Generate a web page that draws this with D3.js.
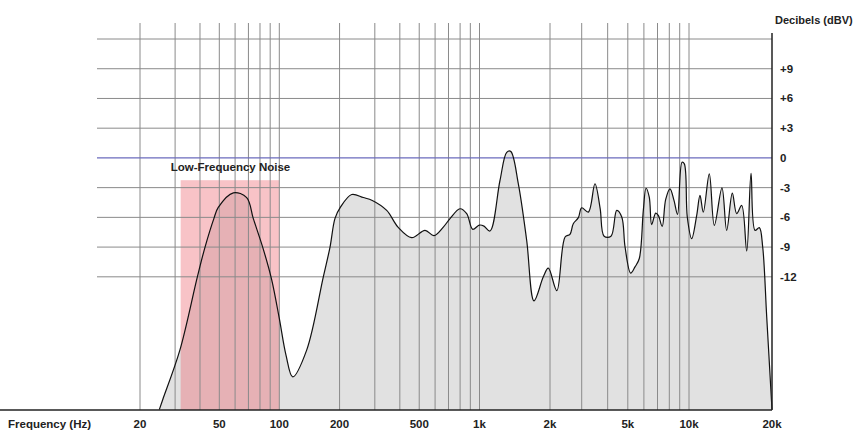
<!DOCTYPE html>
<html>
<head>
<meta charset="utf-8">
<script src="https://cdn.jsdelivr.net/npm/d3@7"></script>
<style>
  html, body { margin: 0; padding: 0; background: #fff; }
  svg { display: block; font-family: "Liberation Sans", Arial, Helvetica, sans-serif; }
</style>
</head>
<body>
<svg id="chart" width="855" height="433"></svg>
<script>
// ---- data ----
const freqHz = [25, 26, 31.7, 38.8, 42.4, 47, 49.4, 58.8, 68.6, 74, 83.1, 91.6, 100, 108, 116.7, 137, 165.9, 179.2, 189.8, 201.7, 229.9, 262.8, 291.4, 344, 391.6, 458.5, 534.4, 592.5, 659.6, 712.2, 799, 863.3, 924.8, 998, 1045, 1109, 1223, 1307, 1359, 1465, 1590, 1709, 1873, 1967, 2182, 2425, 2582, 2694, 2874, 3000, 3229, 3474, 3680, 3846, 4150, 4424, 4676, 4851, 5166, 5425, 5696, 5961, 6146, 6376, 6552, 6859, 7063, 7382, 7680, 8063, 8437, 8782, 9240, 9484, 9810, 10228, 10664, 10961, 11268, 11847, 12354, 13170, 13697, 14357, 14894, 15532, 16196, 16788, 17356, 17989, 18505, 19133, 20000];
const levelDb = [-25.4, -24.4, -19.4, -12.0, -9.0, -6.1, -5.0, -3.52, -4.0, -6.1, -9.2, -12.3, -16.2, -19.9, -22.1, -19.4, -12.0, -9.0, -6.1, -5.0, -3.69, -4.0, -4.29, -5.3, -6.98, -8.04, -7.31, -7.84, -6.98, -6.13, -5.13, -5.63, -7.21, -6.78, -6.88, -7.38, -2.28, 0.56, 0.66, -2.61, -8.31, -14.42, -12.0, -11.13, -13.39, -7.98, -7.71, -6.64, -6.03, -5.03, -5.47, -2.61, -5.1, -7.91, -7.91, -5.3, -5.97, -8.99, -11.63, -11.0, -10.15, -5.3, -3.06, -3.96, -6.73, -5.57, -5.8, -6.91, -4.19, -3.12, -4.29, -5.7, -0.44, -0.6, -5.97, -8.14, -5.8, -3.79, -5.47, -1.61, -6.81, -3.02, -7.31, -3.56, -5.63, -4.8, -9.39, -1.55, -7.31, -7.04, -8.99, -16.0, -25.4];

const xTickValues = [20, 50, 100, 200, 500, 1000, 2000, 5000, 10000, 20000];
const xTickLabels = ["20", "50", "100", "200", "500", "1k", "2k", "5k", "10k", "20k"];
const xGridValues = [20, 30, 40, 50, 60, 70, 80, 90, 100, 200, 300, 400, 500, 600, 700, 800, 900, 1000, 2000, 3000, 4000, 5000, 6000, 7000, 8000, 9000, 10000];
const yTickValues = [9, 6, 3, 0, -3, -6, -9, -12];
const yTickLabels = ["+9", "+6", "+3", "0", "-3", "-6", "-9", "-12"];
const yGridValues = [12, 9, 6, 3, -3, -6, -9, -12];
const noiseBand = [32, 100];   // Hz
const noiseTopDb = [-2.25];
const noiseLabel = ["Low-Frequency Noise"];

// ---- scales ----
const x = d3.scaleLog()
  .domain([20, 100, 1000, 2000, 3000, 5000, 10000, 20000])
  .range([140, 279.3, 479.5, 550, 581.7, 627.8, 689, 772]);
const y = d3.scaleLinear().domain([-25.44, 12]).range([410, 39]);

const svg = d3.select("#chart");
const gridLeft = 97, gridRight = 772, gridTopV = 23, bottomY = 410;

const data = freqHz.map((f, i) => ({ f, v: levelDb[i] }));
const curve = d3.curveCatmullRom.alpha(0.5);

// area fill
const area = d3.area()
  .x(d => x(d.f)).y0(y(-25.44)).y1(d => y(d.v))
  .curve(curve);
svg.append("path").datum(data)
  .attr("d", area).attr("fill", "#e1e1e1");

// noise band
svg.append("rect")
  .attr("x", x(noiseBand[0]))
  .attr("width", x(noiseBand[1]) - x(noiseBand[0]))
  .attr("y", y(noiseTopDb[0]))
  .attr("height", bottomY - y(noiseTopDb[0]))
  .attr("fill", "rgb(238,105,115)").attr("fill-opacity", 0.4);

// grid
svg.append("g").selectAll("line").data(xGridValues).join("line")
  .attr("x1", d => x(d)).attr("x2", d => x(d))
  .attr("y1", gridTopV).attr("y2", bottomY)
  .attr("stroke", "#8a8a8a").attr("stroke-width", 1);
svg.append("g").selectAll("line").data(yGridValues).join("line")
  .attr("x1", gridLeft).attr("x2", gridRight)
  .attr("y1", d => y(d)).attr("y2", d => y(d))
  .attr("stroke", "#8a8a8a").attr("stroke-width", 1);

// zero line
svg.append("line")
  .attr("x1", gridLeft).attr("x2", gridRight)
  .attr("y1", y(0)).attr("y2", y(0))
  .attr("stroke", "#6b6bbd").attr("stroke-width", 1.2);

// curve
const line = d3.line().x(d => x(d.f)).y(d => y(d.v)).curve(curve);
svg.append("path").datum(data)
  .attr("d", line).attr("fill", "none")
  .attr("stroke", "#111").attr("stroke-width", 1.2);

// axes lines
svg.append("line").attr("x1", 0).attr("x2", gridRight)
  .attr("y1", bottomY).attr("y2", bottomY)
  .attr("stroke", "#222").attr("stroke-width", 1.5);
svg.append("line").attr("x1", gridRight).attr("x2", gridRight)
  .attr("y1", 33).attr("y2", bottomY)
  .attr("stroke", "#222").attr("stroke-width", 1.5);

// labels
const txt = svg.append("g").attr("font-weight", "bold").attr("font-size", 11.5).attr("fill", "#222");
txt.selectAll("text.xt").data(xTickValues).join("text").attr("class", "xt")
  .attr("x", d => x(d)).attr("y", 428).attr("text-anchor", "middle")
  .text((d, i) => xTickLabels[i]);
txt.selectAll("text.yt").data(yTickValues).join("text").attr("class", "yt")
  .attr("x", 780).attr("y", d => y(d) + 4)
  .text((d, i) => yTickLabels[i]);
txt.append("text").attr("x", 8).attr("y", 428).text("Frequency (Hz)");
txt.append("text").attr("x", 775).attr("y", 24).attr("font-size", 11).text("Decibels (dBV)");
txt.append("text")
  .attr("x", (x(noiseBand[0]) + x(noiseBand[1])) / 2 + 0.5)
  .attr("y", 171).attr("text-anchor", "middle")
  .text(noiseLabel[0]);
</script>
</body>
</html>
